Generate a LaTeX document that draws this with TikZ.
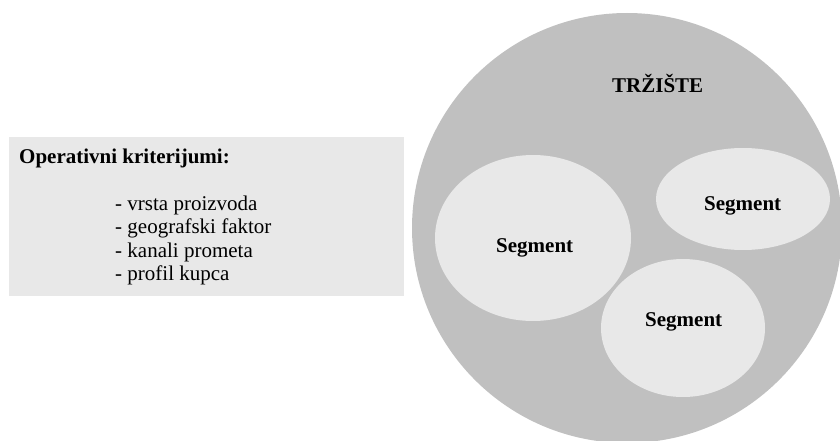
\documentclass[tikz,border=0pt]{standalone}
\usepackage{fontspec}
\setmainfont{Liberation Serif}
\usetikzlibrary{positioning,shapes.geometric}
\definecolor{marketgray}{HTML}{C0C0C0}
\definecolor{segfill}{HTML}{E8E8E8}
\definecolor{critfill}{HTML}{E8E8E8}
\tikzset{
  market/.style={circle,fill=marketgray,minimum size=430pt,inner sep=0pt},
  segment/.style={ellipse,fill=segfill,inner sep=0pt},
  boldlabel/.style={font=\fontsize{21}{23.5}\selectfont\bfseries,anchor=base west,inner sep=0pt},
  critbox/.style={fill=critfill,minimum width=395pt,minimum height=159pt,inner sep=0pt,anchor=north west},
  itemtext/.style={font=\fontsize{21}{23.5}\selectfont,anchor=base west,inner sep=0pt},
}

\begin{document}
\begin{tikzpicture}[x=1pt,y=-1pt]
  \useasboundingbox (0,0) rectangle (840,441);
  \clip (0,0) rectangle (840,441);
  % criteria box
  \node[critbox] (crit) at (9,137) {};
  \node[boldlabel] (crittitle) at (19,163) {Operativni kriterijumi:};
  \node[itemtext] (item1) at (115,210) {- vrsta proizvoda};
  \node[itemtext] (item2) at (115,233.5) {- geografski faktor};
  \node[itemtext] (item3) at (115,257) {- kanali prometa};
  \node[itemtext] (item4) at (115,280.5) {- profil kupca};
  % market with segments
  \node[market] (market) at (627,228) {};
  \node[boldlabel] (markettitle) at (612,93) {TRŽIŠTE};
  \node[segment,minimum width=164pt,minimum height=138pt] (segC) at (683,328) {};
  \node[segment,minimum width=196pt,minimum height=166pt] (segA) at (533,238) {};
  \node[segment,minimum width=174pt,minimum height=102pt] (segB) at (743,199) {};
  \node[boldlabel] (labA) at (496,252) {Segment};
  \node[boldlabel] (labB) at (704,210) {Segment};
  \node[boldlabel] (labC) at (645,326) {Segment};
\end{tikzpicture}
\end{document}
